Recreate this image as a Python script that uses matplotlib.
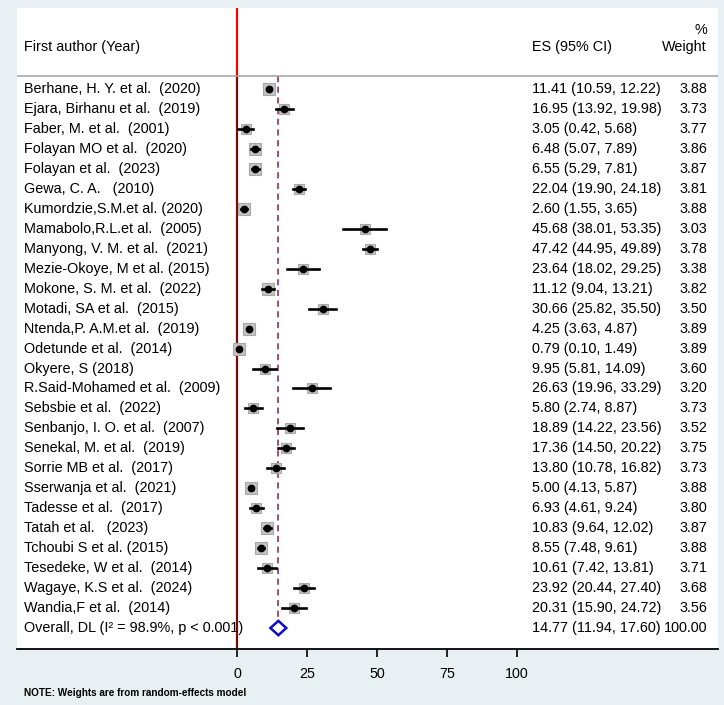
import matplotlib.pyplot as plt
from matplotlib.patches import Polygon
from matplotlib.transforms import blended_transform_factory

plt.rcParams['font.family'] = ['Liberation Sans', 'DejaVu Sans']

studies = [
    'Berhane, H. Y. et al.  (2020)', 'Ejara, Birhanu et al.  (2019)', 'Faber, M. et al.  (2001)',
    'Folayan MO et al.  (2020)', 'Folayan et al.  (2023)', 'Gewa, C. A.   (2010)',
    'Kumordzie,S.M.et al. (2020)', 'Mamabolo,R.L.et al.  (2005)', 'Manyong, V. M. et al.  (2021)',
    'Mezie-Okoye, M et al. (2015)', 'Mokone, S. M. et al.  (2022)', 'Motadi, SA et al.  (2015)',
    'Ntenda,P. A.M.et al.  (2019)', 'Odetunde et al.  (2014)', 'Okyere, S (2018)',
    'R.Said-Mohamed et al.  (2009)', 'Sebsbie et al.  (2022)', 'Senbanjo, I. O. et al.  (2007)',
    'Senekal, M. et al.  (2019)', 'Sorrie MB et al.  (2017)', 'Sserwanja et al.  (2021)',
    'Tadesse et al.  (2017)', 'Tatah et al.   (2023)', 'Tchoubi S et al. (2015)',
    'Tesedeke, W et al.  (2014)', 'Wagaye, K.S et al.  (2024)', 'Wandia,F et al.  (2014)',
]
es = [11.41, 16.95, 3.05, 6.48, 6.55, 22.04, 2.60, 45.68, 47.42, 23.64, 11.12, 30.66, 4.25, 0.79,
      9.95, 26.63, 5.80, 18.89, 17.36, 13.80, 5.00, 6.93, 10.83, 8.55, 10.61, 23.92, 20.31]
lo = [10.59, 13.92, 0.42, 5.07, 5.29, 19.90, 1.55, 38.01, 44.95, 18.02, 9.04, 25.82, 3.63, 0.10,
      5.81, 19.96, 2.74, 14.22, 14.50, 10.78, 4.13, 4.61, 9.64, 7.48, 7.42, 20.44, 15.90]
hi = [12.22, 19.98, 5.68, 7.89, 7.81, 24.18, 3.65, 53.35, 49.89, 29.25, 13.21, 35.50, 4.87, 1.49,
      14.09, 33.29, 8.87, 23.56, 20.22, 16.82, 5.87, 9.24, 12.02, 9.61, 13.81, 27.40, 24.72]
weight = [3.88, 3.73, 3.77, 3.86, 3.87, 3.81, 3.88, 3.03, 3.78, 3.38, 3.82, 3.50, 3.89, 3.89,
          3.60, 3.20, 3.73, 3.52, 3.75, 3.73, 3.88, 3.80, 3.87, 3.88, 3.71, 3.68, 3.56]
overall_label = 'Overall, DL (I² = 98.9%, p < 0.001)'
overall_es, overall_lo, overall_hi, overall_w = 14.77, 11.94, 17.60, 100.00
xticks = [0, 25, 50, 75, 100]

W, H = 724, 705
fig = plt.figure(figsize=(W / 100, H / 100), dpi=100, facecolor='#e9f0f3')
# panel: x 17..718 px, y 8..649 px
ax = fig.add_axes([17 / W, 1 - 649 / H, 701 / W, 641 / H])
ax.set_facecolor('white')
ax.set_xlim(-220 / 2.8, 481 / 2.8)
ax.set_ylim(28.05, -4.06)
for s in ['top', 'left', 'right']:
    ax.spines[s].set_visible(False)
ax.spines['bottom'].set_linewidth(1.3)
ax.set_yticks([])
ax.set_xticks(xticks)
ax.tick_params(axis='x', length=6, width=1.2, labelsize=10.3, pad=7)

n = len(studies)
rows = list(range(n))
head_y = -0.65

# reference lines
ax.plot([0, 0], [-4.06, head_y], color='#ff0000', lw=1.6, zorder=1)
ax.plot([0, 0], [head_y, 28.05], color='#7a0a0a', lw=1.6, zorder=1)
ax.plot([overall_es, overall_es], [head_y, n - 0.45], color='#8b2040', lw=1.1,
        ls=(0, (4, 3)), zorder=1)
ax.plot([-220 / 2.8, 481 / 2.8], [head_y, head_y], color='#a8a8a8', lw=1.2, zorder=1)

# study markers
for i in rows:
    ax.plot(es[i], i, marker='s', ms=8.0 * (weight[i] / 3.89) ** 0.5, mfc='#c4c4c4',
            mec='#a9a9a9', mew=0.8, zorder=2)
    ax.plot([lo[i], hi[i]], [i, i], color='black', lw=1.9, zorder=3)
    ax.plot(es[i], i, marker='o', ms=4.6, color='black', zorder=4)

# overall diamond
yo = n
ax.add_patch(Polygon([(overall_lo, yo), (overall_es, yo - 0.36), (overall_hi, yo),
                      (overall_es, yo + 0.36)], closed=True, fc='white', ec='#0a0ad0',
                     lw=1.8, zorder=3))

tr = blended_transform_factory(fig.transFigure, ax.transData)
fs = 10.4
ax.text(24 / W, -2.1, 'First author (Year)', transform=tr, fontsize=fs, va='center')
ax.text(532 / W, -2.1, 'ES (95% CI)', transform=tr, fontsize=fs, va='center')
ax.text(707 / W, -2.1, 'Weight', transform=tr, fontsize=fs, va='center', ha='right')
ax.text(707 / W, -2.95, '%', transform=tr, fontsize=fs, va='center', ha='right')

for i in rows:
    ax.text(24 / W, i, studies[i], transform=tr, fontsize=fs, va='center')
    ax.text(532 / W, i, f'{es[i]:.2f} ({lo[i]:.2f}, {hi[i]:.2f})', transform=tr,
            fontsize=fs, va='center')
    ax.text(707 / W, i, f'{weight[i]:.2f}', transform=tr, fontsize=fs, va='center', ha='right')
ax.text(24 / W, yo, overall_label, transform=tr, fontsize=fs, va='center')
ax.text(532 / W, yo, f'{overall_es:.2f} ({overall_lo:.2f}, {overall_hi:.2f})', transform=tr,
        fontsize=fs, va='center')
ax.text(707 / W, yo, f'{overall_w:.2f}', transform=tr, fontsize=fs, va='center', ha='right')

fig.text(24 / W, 1 - 693 / H, 'NOTE: Weights are from random-effects model', fontsize=7.2,
         fontweight='bold', va='center')

fig.savefig('out.png', dpi=100, facecolor=fig.get_facecolor())
